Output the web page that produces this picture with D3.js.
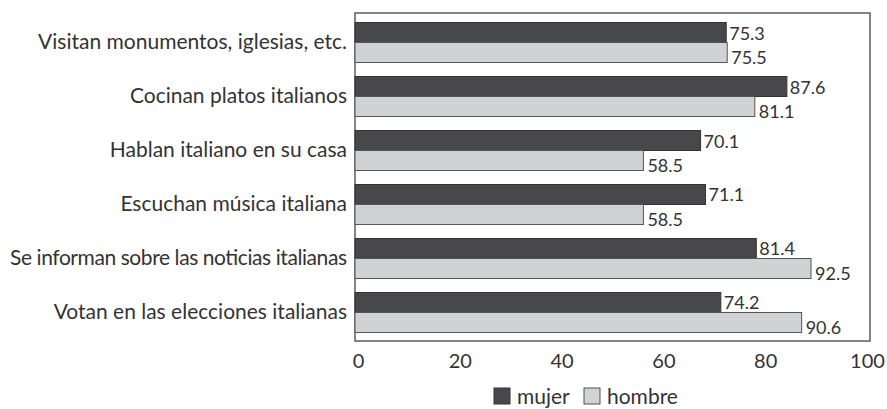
<!DOCTYPE html>
<html><head><meta charset="utf-8">
<script src="https://cdn.jsdelivr.net/npm/d3@7"></script>
<style>body{margin:0;background:#fff}svg{display:block}text{font-family:Lato,"Open Sans",sans-serif;fill:#333}</style>
</head><body><svg id="c" width="887" height="409"></svg>
<script>
const categories = ["Visitan monumentos, iglesias, etc.","Cocinan platos italianos","Hablan italiano en su casa","Escuchan música italiana","Se informan sobre las noticias italianas","Votan en las elecciones italianas"];
const mujer = [75.3, 87.6, 70.1, 71.1, 81.4, 74.2];
const hombre = [75.5, 81.1, 58.5, 58.5, 92.5, 90.6];
const tickValues = [0, 20, 40, 60, 80, 100];
const seriesNames = ["mujer", "hombre"];
const colors = {mujer: "#48484a", hombre: "#d1d2d4"};

const svg = d3.select("#c");
const frame = {x0: 355, x1: 870, y0: 13, y1: 341};
const x = d3.scaleLinear().domain([0, 100]).range([frame.x0, 848]);
const xLabel = d3.scaleLinear().domain([0, 100]).range([358, 867]);
const y = d3.scaleBand().domain(categories).range([15.5, 339.5]).paddingInner(0.259).paddingOuter(0.1296);
const bh = y.bandwidth() / 2;

svg.append("rect").attr("x", frame.x0).attr("y", frame.y0).attr("width", frame.x1 - frame.x0).attr("height", frame.y1 - frame.y0)
  .attr("fill", "none").attr("stroke", "#444").attr("stroke-width", 1.3);

const data = categories.map((c, i) => ({c, m: mujer[i], h: hombre[i]}));
const g = svg.append("g");
data.forEach(d => {
  g.append("rect").attr("x", x(0)).attr("y", y(d.c)).attr("width", x(d.m) - x(0)).attr("height", bh)
    .attr("fill", colors.mujer).attr("stroke", "#333").attr("stroke-width", 1);
  g.append("rect").attr("x", x(0)).attr("y", y(d.c) + bh).attr("width", x(d.h) - x(0)).attr("height", bh)
    .attr("fill", colors.hombre).attr("stroke", "#555").attr("stroke-width", 1);
  g.append("text").attr("x", x(d.m) + 3).attr("y", y(d.c) + bh - 3).attr("font-size", 18).text(d.m.toFixed(1));
  g.append("text").attr("x", x(d.h) + 4).attr("y", y(d.c) + 2 * bh + 1).attr("font-size", 18).text(d.h.toFixed(1));
  const t = g.append("text").attr("x", 347).attr("y", y(d.c) + bh + 6.5).attr("text-anchor", "end").attr("font-size", 21).text(d.c);
  const maxW = 337;
  if (t.node().getComputedTextLength() > maxW) t.attr("textLength", maxW).attr("lengthAdjust", "spacing");
});

const axis = d3.axisBottom(xLabel).tickValues(tickValues).tickSize(0).tickPadding(0).tickFormat(d3.format("d"));
const ag = svg.append("g").attr("transform", `translate(0,${frame.y1})`).call(axis);
ag.select(".domain").remove();
ag.selectAll("text").attr("font-size", 20).attr("dy", null).attr("y", 27).style("font-family", "Lato").attr("fill", "#333");

const leg = svg.append("g");
const legX = [494, 584];
seriesNames.forEach((s, i) => {
  leg.append("rect").attr("x", legX[i]).attr("y", 388).attr("width", 16).attr("height", 16)
    .attr("fill", colors[s]).attr("stroke", s === "mujer" ? "#333" : "#555");
  leg.append("text").attr("x", legX[i] + 23).attr("y", 404).attr("font-size", 21).text(s);
});
</script></body></html>
